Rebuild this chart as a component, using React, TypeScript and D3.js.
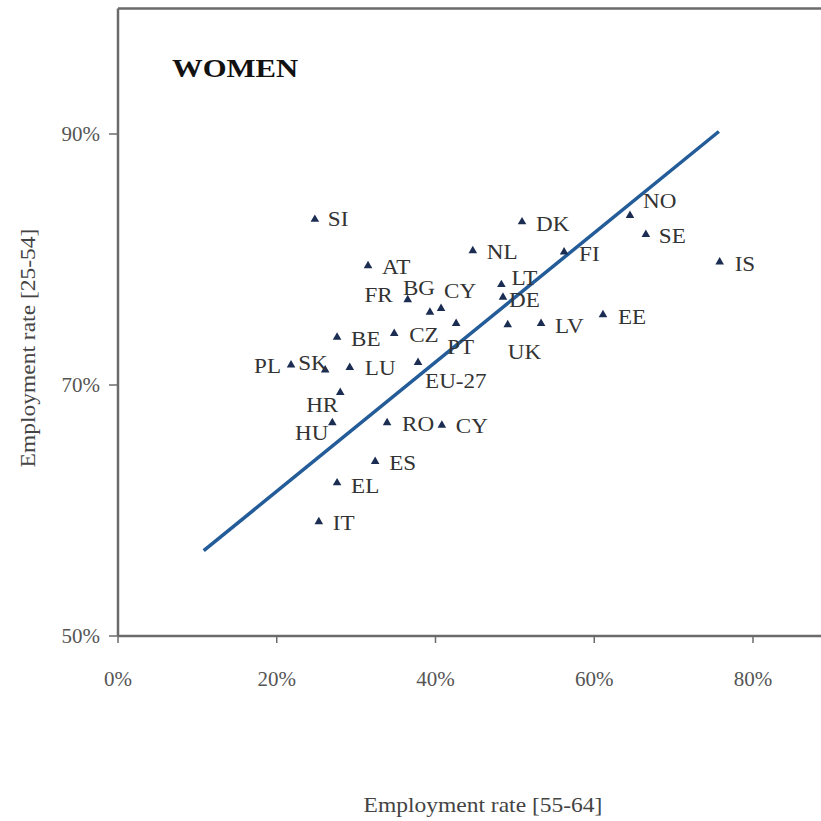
import React from "react";
import * as d3 from "d3";

const countries = ["SI","DK","NL","AT","FI","NO","SE","IS","LT","DE","FR","BG","CY","PT","UK","LV","EE","BE","CZ","PL","SK","LU","EU-27","HR","HU","RO","CY","ES","EL","IT"];
const rate5564 = [24.8,50.9,44.7,31.5,56.2,64.5,66.5,75.8,48.3,48.5,36.5,39.3,40.7,42.6,49.1,53.3,61.1,27.6,34.8,21.8,26.1,29.2,37.8,28.0,27.0,33.9,40.8,32.4,27.6,25.3];
const rate2554 = [83.2,83.0,80.7,79.5,80.6,83.5,82.0,79.8,78.0,77.0,76.8,75.8,76.1,74.9,74.8,74.9,75.6,73.8,74.1,71.6,71.2,71.4,71.8,69.4,67.0,67.0,66.8,63.9,62.2,59.1];
const trendX = [10.8, 75.7];
const trendY = [56.8, 90.2];
const xTicks = [0, 20, 40, 60, 80];
const yTicks = [50, 70, 90];

// label placement (layout): [dx, dy, anchor]
const labelPos: [number, number, string][] = [
  [13,7,"start"],[14,9,"start"],[14,8,"start"],[14,8,"start"],[15,9,"start"],
  [13,-8,"start"],[13,9,"start"],[15,9,"start"],[10,0,"start"],[6,10,"start"],
  [-15,2,"end"],[-27,-17,"start"],[3,-10,"start"],[-9,30,"start"],[0,34,"start"],
  [14,9,"start"],[15,9,"start"],[14,9,"start"],[15,8,"start"],[-10,8,"end"],
  [-27,0,"start"],[15,8,"start"],[7,26,"start"],[-2,19,"end"],[-4,17,"end"],
  [15,8,"start"],[14,8,"start"],[14,8,"start"],[14,10,"start"],[14,8,"start"],
];

export default function App() {
  const W = 821, H = 821;
  const x = d3.scaleLinear().domain([0, 80]).range([118, 753]);
  const y = d3.scaleLinear().domain([50, 90]).range([636, 134]);
  const tri = d3.symbol().type(d3.symbolTriangle).size(32)();
  const line = d3.line<number>().x((_, i) => x(trendX[i])).y((d) => y(d));
  const axisColor = "#6b6b6b";
  const serif = "'Liberation Serif', 'Times New Roman', serif";
  const sx = 1.1;
  return (
    <svg width={W} height={H} style={{ position: "absolute", left: 0, top: 0, background: "#fff" }} fontFamily={serif}>
      <rect width={W} height={H} fill="#fff" />
      <line x1={x(0)} x2={W} y1={y(100)} y2={y(100)} stroke={axisColor} strokeWidth={2.5} />
      <line x1={x(0)} x2={x(0)} y1={y(100)} y2={y(50)} stroke={axisColor} strokeWidth={2.5} />
      <line x1={x(0)} x2={W} y1={y(50)} y2={y(50)} stroke={axisColor} strokeWidth={2.5} />
      {yTicks.map((t) => (
        <g key={"y" + t}>
          <line x1={x(0) - 9} x2={x(0)} y1={y(t)} y2={y(t)} stroke={axisColor} strokeWidth={1.5} />
          <text x={100} y={y(t)} dy="0.35em" textAnchor="end" fontSize={21} fill="#555">{t}%</text>
        </g>
      ))}
      {xTicks.map((t) => (
        <g key={"x" + t}>
          <line x1={x(t)} x2={x(t)} y1={y(50)} y2={y(50) + 7} stroke={axisColor} strokeWidth={1.5} />
          <text x={x(t)} y={686} textAnchor="middle" fontSize={21} fill="#555">{t}%</text>
        </g>
      ))}
      <text transform="translate(172,77) scale(1.18,1)" fontSize={26} fontWeight="bold" fill="#111">WOMEN</text>
      <text transform={`translate(28,348) rotate(-90) scale(1.12,1)`} dy="0.35em" textAnchor="middle" fontSize={21} fill="#444">Employment rate [25-54]</text>
      <text transform="translate(483,812) scale(1.12,1)" textAnchor="middle" fontSize={21} fill="#444">Employment rate [55-64]</text>
      <path d={line(trendY) || ""} fill="none" stroke="#235c98" strokeWidth={3.5} />
      {countries.map((c, i) => {
        const px = x(rate5564[i]), py = y(rate2554[i]);
        const [dx, dy, anchor] = labelPos[i];
        return (
          <g key={c + i}>
            <path d={tri || ""} transform={`translate(${px},${py})`} fill="#1b2d52" />
            <text transform={`translate(${px + dx},${py + dy}) scale(${sx},1)`} textAnchor={anchor as any} fontSize={21} fill="#333">{c}</text>
          </g>
        );
      })}
    </svg>
  );
}
